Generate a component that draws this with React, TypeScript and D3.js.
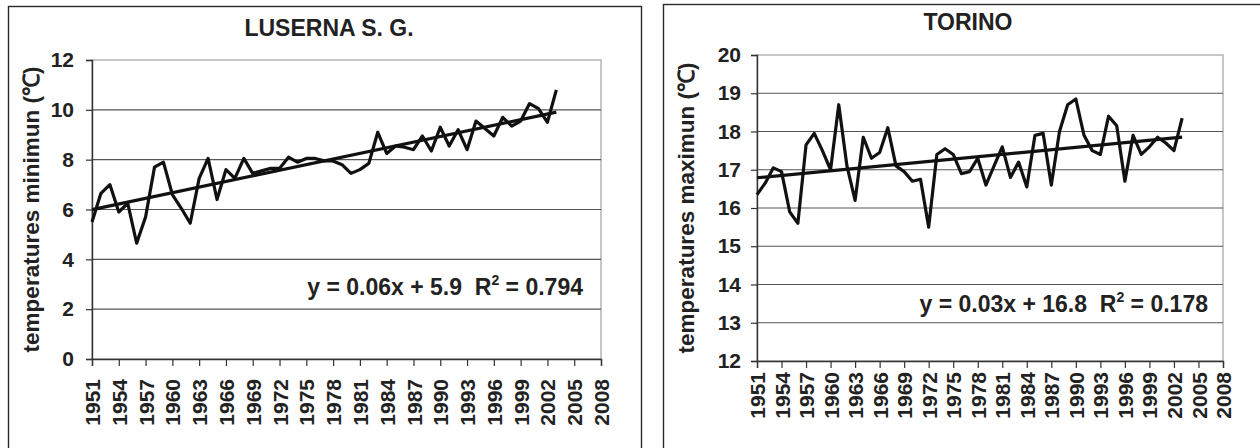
import React, { useEffect, useRef } from 'react';
import * as d3 from 'd3';

// years shown on the series (1951-2003)
const years: number[] = d3.range(1951, 2004);

// LUSERNA S. G. - minimum temperatures (°C)
const lusernaMin: number[] = [
  5.5, 6.65, 7.0, 5.9, 6.25, 4.65, 5.7, 7.7, 7.9, 6.6,
  6.05, 5.45, 7.25, 8.05, 6.4, 7.6, 7.25, 8.05, 7.45, 7.55,
  7.65, 7.65, 8.1, 7.9, 8.05, 8.05, 7.95, 7.95, 7.8, 7.45,
  7.6, 7.85, 9.1, 8.25, 8.55, 8.5, 8.4, 8.95, 8.35, 9.3,
  8.55, 9.2, 8.4, 9.55, 9.25, 8.95, 9.7, 9.35, 9.55, 10.25,
  10.05, 9.5, 10.8,
];

// TORINO - maximum temperatures (°C)
const torinoMax: number[] = [
  16.35, 16.65, 17.05, 16.95, 15.9, 15.6, 17.65, 17.95, 17.5, 17.0,
  18.7, 17.1, 16.2, 17.85, 17.3, 17.45, 18.1, 17.1, 16.95, 16.7,
  16.75, 15.5, 17.4, 17.55, 17.4, 16.9, 16.95, 17.3, 16.6, 17.1,
  17.6, 16.8, 17.2, 16.55, 17.9, 17.95, 16.6, 18.0, 18.7, 18.85,
  17.9, 17.5, 17.4, 18.4, 18.15, 16.7, 17.9, 17.4, 17.6, 17.85,
  17.7, 17.5, 18.35,
];

// x axis tick labels (every 3 years)
const xTicks: number[] = d3.range(1951, 2009, 3);
const lusernaYTicks: number[] = [0, 2, 4, 6, 8, 10, 12];
const torinoYTicks: number[] = [12, 13, 14, 15, 16, 17, 18, 19, 20];

const lusernaEq = { main: 'y = 0.06x + 5.9  R', tail: ' = 0.794' };
const torinoEq = { main: 'y = 0.03x + 16.8  R', tail: ' = 0.178' };

const FONT = '"Liberation Sans", Arial, sans-serif';

interface PanelCfg {
  title: string;
  titleX: number;
  titleY: number;
  yLabel: string;
  yLabelX: number;
  frame: { x: number; y: number; w: number; h: number };
  left: number;
  right: number;
  top: number;
  bottom: number;
  yDomain: [number, number];
  yTicks: number[];
  values: number[];
  eq: { main: string; tail: string };
  eqX: number;
  eqY: number;
  xLabelGap: number;
  yTickPad: number;
}

function drawPanel(svg: d3.Selection<SVGSVGElement, unknown, null, undefined>, c: PanelCfg) {
  const g = svg.append('g');

  // outer chart frame
  g.append('rect')
    .attr('x', c.frame.x + 0.5).attr('y', c.frame.y + 0.5)
    .attr('width', c.frame.w).attr('height', c.frame.h)
    .attr('fill', '#fff').attr('stroke', '#2a2a2a').attr('stroke-width', 1.4);

  const x = d3.scaleLinear().domain([1951, 2008]).range([c.left, c.right]);
  const y = d3.scaleLinear().domain(c.yDomain).range([c.bottom, c.top]);

  // plot area border
  g.append('rect')
    .attr('x', c.left).attr('y', c.top)
    .attr('width', c.right - c.left).attr('height', c.bottom - c.top)
    .attr('fill', 'none').attr('stroke', '#a8a8a8').attr('stroke-width', 1.3);

  // gridlines
  g.append('g').selectAll('line')
    .data(c.yTicks.filter(t => t !== c.yDomain[0] && t !== c.yDomain[1]))
    .join('line')
    .attr('x1', c.left).attr('x2', c.right)
    .attr('y1', d => y(d)).attr('y2', d => y(d))
    .attr('stroke', '#555').attr('stroke-width', 1.2);

  // y axis
  const yAxis = g.append('g')
    .attr('transform', `translate(${c.left},0)`)
    .call(d3.axisLeft(y).tickValues(c.yTicks).tickSize(6).tickPadding(c.yTickPad).tickFormat(d3.format('d')));
  yAxis.select('.domain').attr('stroke', '#333').attr('stroke-width', 1.4);
  yAxis.selectAll('.tick line').attr('stroke', '#333').attr('stroke-width', 1.2);
  yAxis.selectAll('.tick text')
    .attr('font-family', FONT).attr('font-weight', 'bold').attr('font-size', 21).attr('fill', '#222');

  // x axis
  const xAxis = g.append('g')
    .attr('transform', `translate(0,${c.bottom})`)
    .call(d3.axisBottom(x).tickValues(xTicks).tickSize(7).tickFormat(d3.format('d')));
  xAxis.select('.domain').attr('stroke', '#333').attr('stroke-width', 1.4);
  xAxis.selectAll('.tick line').attr('stroke', '#333').attr('stroke-width', 1.2);
  xAxis.selectAll('.tick text')
    .attr('font-family', FONT).attr('font-weight', 'bold').attr('font-size', 21).attr('fill', '#222')
    .attr('text-anchor', 'end')
    .attr('transform', `translate(0,${c.xLabelGap}) rotate(-90)`)
    .attr('x', 0).attr('y', 0).attr('dy', '0.36em');

  // trend line (least squares on the series)
  const xs = years.map((_, i) => i + 1);
  const mx = d3.mean(xs) as number;
  const my = d3.mean(c.values) as number;
  const slope = d3.sum(xs, (v, i) => (v - mx) * (c.values[i] - my)) / d3.sum(xs, v => (v - mx) ** 2);
  const icpt = my - slope * mx;
  const trend = [years[0], years[years.length - 1]].map(yr => [yr, icpt + slope * (yr - 1950)] as [number, number]);

  const line = d3.line<[number, number]>().x(d => x(d[0])).y(d => y(d[1]));

  g.append('path')
    .datum(years.map((yr, i) => [yr, c.values[i]] as [number, number]))
    .attr('d', line)
    .attr('fill', 'none').attr('stroke', '#111').attr('stroke-width', 3.2)
    .attr('stroke-linejoin', 'round');

  g.append('path')
    .datum(trend)
    .attr('d', line)
    .attr('fill', 'none').attr('stroke', '#111').attr('stroke-width', 3.2);

  // title
  g.append('text')
    .attr('x', c.titleX).attr('y', c.titleY)
    .attr('text-anchor', 'middle')
    .attr('font-family', FONT).attr('font-weight', 'bold').attr('font-size', 23).attr('fill', '#222')
    .text(c.title);

  // y axis label
  g.append('text')
    .attr('transform', `translate(${c.yLabelX},${(c.top + c.bottom) / 2}) rotate(-90)`)
    .attr('text-anchor', 'middle')
    .attr('font-family', FONT).attr('font-weight', 'bold').attr('font-size', 22.5).attr('fill', '#222')
    .text(c.yLabel);

  // regression equation
  const eq = g.append('text')
    .attr('x', c.eqX).attr('y', c.eqY)
    .attr('text-anchor', 'end')
    .attr('font-family', FONT).attr('font-weight', 'bold').attr('font-size', 23).attr('fill', '#222')
    .style('white-space', 'pre');
  eq.append('tspan').text(c.eq.main);
  eq.append('tspan').attr('dy', -10).attr('font-size', 14).text('2');
  eq.append('tspan').attr('dy', 10).text(c.eq.tail);
}

export default function App() {
  const ref = useRef<SVGSVGElement>(null);

  useEffect(() => {
    const svg = d3.select(ref.current as SVGSVGElement);
    svg.selectAll('*').remove();

    drawPanel(svg, {
      title: 'LUSERNA S. G.', titleX: 329, titleY: 36,
      yLabel: 'temperatures minimun (℃)', yLabelX: 39,
      frame: { x: 8, y: 6, w: 633, h: 470 },
      left: 92, right: 601, top: 60, bottom: 359,
      yDomain: [0, 12], yTicks: lusernaYTicks, values: lusernaMin,
      eq: lusernaEq, eqX: 583, eqY: 295,
      xLabelGap: 20, yTickPad: 12,
    });

    drawPanel(svg, {
      title: 'TORINO', titleX: 968, titleY: 30,
      yLabel: 'temperatures maximun (℃)', yLabelX: 694,
      frame: { x: 663, y: 4, w: 640, h: 470 },
      left: 757, right: 1223, top: 55, bottom: 361,
      yDomain: [12, 20], yTicks: torinoYTicks, values: torinoMax,
      eq: torinoEq, eqX: 1208, eqY: 312,
      xLabelGap: 11, yTickPad: 10,
    });
  }, []);

  return (
    <div style={{ position: 'absolute', left: 0, top: 0, width: 1260, height: 448, overflow: 'hidden', background: '#fff' }}>
      <svg ref={ref} width={1260} height={448} style={{ display: 'block' }} />
    </div>
  );
}
